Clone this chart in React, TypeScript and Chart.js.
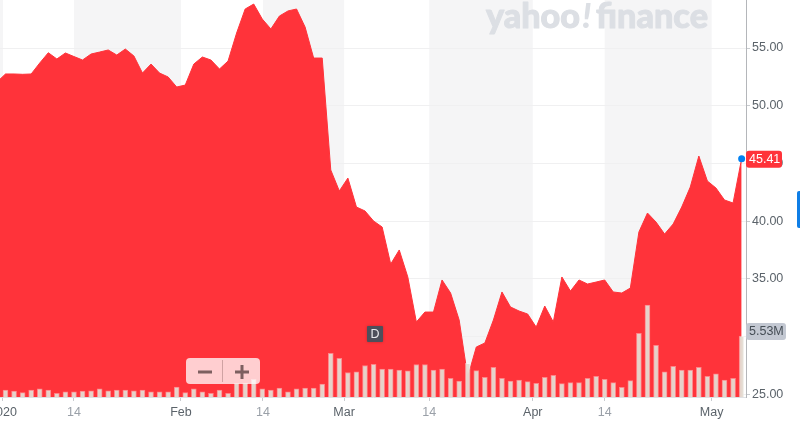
import { useEffect, useRef } from 'react'
import { Chart, registerables } from 'chart.js'

Chart.register(...registerables)

// close prices, first entry is the last session of 2019 (just off the left edge)
const prices = [
  52.05, 52.75, 52.75, 52.72, 52.75, 53.7, 54.59, 54.05, 54.57, 54.26, 53.96, 54.48, 54.65, 54.83, 54.39, 54.91,
  54.31, 52.83, 53.61, 52.83, 52.49, 51.62, 51.79, 53.61, 54.22, 53.96, 53.18, 53.87, 56.3, 58.38, 58.81, 57.51,
  56.65, 57.77, 58.21, 58.38, 56.82, 54.13, 54.13, 44.43, 42.61, 43.73, 41.22, 40.88, 40.01, 39.49, 36.28, 37.5,
  35.16, 31.26, 32.12, 32.12, 34.9, 33.77, 31.43, 26.49, 29.09, 29.44, 31.43, 33.86, 32.56, 32.21, 31.95, 30.82,
  32.64, 31.26, 35.16, 33.94, 34.9, 34.55, 34.72, 34.9, 33.86, 33.77, 34.2, 39.06, 40.7, 39.92, 38.88, 39.75,
  41.22, 42.95, 45.64, 43.47, 42.87, 41.83, 41.57, 45.41,
]

// volume in millions, starts with the first session of 2020
const volumes = [
  0.63, 0.54, 0.39, 0.63, 0.73, 0.63, 0.34, 0.48, 0.48, 0.54, 0.57, 0.73, 0.57, 0.63, 0.63, 0.57, 0.63, 0.48, 0.48,
  0.48, 0.91, 0.39, 0.73, 0.48, 0.34, 0.63, 0.34, 1.24, 1.27, 1.61, 0.73, 0.63, 0.82, 0.48, 0.73, 0.82, 0.82, 1.18,
  3.96, 3.51, 2.22, 2.29, 2.86, 2.97, 2.54, 2.54, 2.45, 2.38, 2.95, 2.95, 2.45, 2.54, 1.7, 1.45, 3.06, 2.39, 1.79,
  2.69, 1.7, 1.45, 1.54, 1.39, 1.24, 1.79, 1.97, 1.21, 1.3, 1.3, 1.7, 1.88, 1.61, 1.3, 0.88, 1.48, 5.78, 8.34, 4.69,
  2.29, 2.78, 2.45, 2.45, 2.69, 1.88, 2.11, 1.54, 1.7, 5.53,
]

const xTickValues = [-0.3, 8, 20.5, 30.08, 39.56, 49.5, 61.6, 70, 82.5]
const xTickLabels = ['2020', '14', 'Feb', '14', 'Mar', '14', 'Apr', '14', 'May']
const yTickValues = [25, 30, 35, 40, 45, 50, 55]

const RED = '#ff333a'
const FONT = '"Liberation Sans", sans-serif'

function roundBox(ctx: CanvasRenderingContext2D, x: number, y: number, w: number, h: number, r: number, fill: string) {
  ctx.fillStyle = fill
  ctx.beginPath()
  ctx.roundRect(x, y, w, h, r)
  ctx.fill()
}

// alternating month shading and the watermark, under the grid
const backdrop = {
  id: 'backdrop',
  beforeDraw(chart: any) {
    const { ctx, chartArea, scales } = chart
    const edges = [chartArea.left, ...xTickValues.map((v) => scales.x.getPixelForValue(v))]
    ctx.save()
    ctx.fillStyle = '#f5f5f6'
    for (let i = 0; i < edges.length - 1; i += 2) {
      ctx.fillRect(edges[i], chartArea.top, edges[i + 1] - edges[i], chartArea.height)
    }
    ctx.fillStyle = '#dcdfe4'
    ctx.strokeStyle = '#dcdfe4'
    ctx.lineWidth = 1
    ctx.lineJoin = 'round'
    ctx.textBaseline = 'alphabetic'
    ctx.font = '900 35px Lato, sans-serif'
    ctx.fillText('yahoo', 486, 28, 94)
    ctx.strokeText('yahoo', 486, 28, 94)
    ctx.fillText('finance', 596, 28, 112)
    ctx.strokeText('finance', 596, 28, 112)
    ctx.font = 'italic 900 35px Lato, sans-serif'
    ctx.fillText('!', 582, 28, 12)
    ctx.restore()
  },
}

// tags, zoom control and event marker on top of the marks
const overlay = {
  id: 'overlay',
  afterDraw(chart: any) {
    const { ctx, scales } = chart
    const lastPrice = prices[prices.length - 1]
    const lastVolume = volumes[volumes.length - 1]
    const lastX = scales.x.getPixelForValue(prices.length - 2)
    const priceY = scales.y.getPixelForValue(lastPrice)
    const volumeY = scales.volume.getPixelForValue(lastVolume)

    ctx.save()
    ctx.textBaseline = 'middle'
    ctx.font = `12.5px ${FONT}`

    // last volume tag
    roundBox(ctx, 746, volumeY - 13, 40, 17, 3, '#c3c8d2')
    ctx.fillStyle = '#464e56'
    ctx.fillText(`${lastVolume.toFixed(2)}M`, 749, volumeY - 4.5)

    // last price tag and dot
    roundBox(ctx, 746, priceY - 8, 36, 17, 3, RED)
    ctx.fillStyle = '#ffffff'
    ctx.fillText(lastPrice.toFixed(2), 749, priceY + 0.5)
    ctx.fillStyle = '#0081f2'
    ctx.beginPath()
    ctx.arc(lastX, priceY, 3.5, 0, Math.PI * 2)
    ctx.fill()

    // event marker
    ctx.shadowColor = 'rgba(0,0,0,0.25)'
    ctx.shadowBlur = 3
    roundBox(ctx, 367, 326, 16, 16, 1, '#4d4f5b')
    ctx.shadowBlur = 0
    ctx.fillStyle = '#e8e8ec'
    ctx.textAlign = 'center'
    ctx.fillText('D', 375, 334.5)
    ctx.textAlign = 'left'

    // zoom control
    roundBox(ctx, 186, 358, 74, 26, 4, 'rgba(255,255,255,0.76)')
    ctx.fillStyle = 'rgba(120,80,80,0.35)'
    ctx.fillRect(222, 360, 1, 22)
    ctx.fillStyle = '#7d5f60'
    ctx.fillRect(198, 370.5, 14, 3)
    ctx.fillRect(235, 370.5, 14, 3)
    ctx.fillRect(240.5, 365, 3, 14)

    // side tab on the window edge
    roundBox(ctx, 797, 191, 6, 37, 2, '#0f7ee6')
    ctx.restore()
  },
}

export default function App() {
  const chartRef = useRef<HTMLCanvasElement>(null)

  useEffect(() => {
    if (!chartRef.current) return

    const chart = new Chart(chartRef.current, {
      data: {
        datasets: [
          {
            type: 'bar',
            data: volumes.map((v, i) => ({ x: i, y: v })),
            yAxisID: 'volume',
            backgroundColor: 'rgba(228,220,210,0.94)',
            borderColor: 'rgba(255,255,255,0.4)',
            borderWidth: 1,
            barThickness: 5,
            order: 1,
          },
          {
            type: 'line',
            data: prices.map((v, i) => ({ x: i - 1, y: v })),
            yAxisID: 'y',
            borderColor: RED,
            borderWidth: 1,
            backgroundColor: RED,
            fill: 'start',
            tension: 0,
            pointRadius: 0,
            order: 2,
          },
        ],
      },
      options: {
        responsive: false,
        animation: false,
        layout: { padding: 0 },
        plugins: {
          legend: { display: false },
          tooltip: { enabled: false },
        },
        scales: {
          x: {
            type: 'linear',
            offset: false,
            min: -0.643,
            max: 86.51,
            afterBuildTicks: (scale: any) => {
              scale.ticks = xTickValues.map((value) => ({ value }))
            },
            afterFit: (scale: any) => {
              scale.height = 45
              scale.paddingLeft = 0
              scale.paddingRight = 0
            },
            grid: { offset: false, drawOnChartArea: false, tickLength: 4, tickColor: '#c9ccd0' },
            border: { color: '#dfe1e4' },
            ticks: {
              autoSkip: false,
              maxRotation: 0,
              padding: 4,
              font: { family: FONT, size: 12.5 },
              color: (c: any) => (xTickLabels[c.index] === '14' ? '#9aa0a8' : '#5b636a'),
              callback: (value: any) => xTickLabels[xTickValues.indexOf(value)],
            },
          },
          y: {
            position: 'right',
            min: 24.76,
            max: 59.16,
            afterBuildTicks: (scale: any) => {
              scale.ticks = yTickValues.map((value) => ({ value }))
            },
            afterFit: (scale: any) => {
              scale.width = 54
              scale.paddingTop = 0
              scale.paddingBottom = 0
            },
            grid: { color: '#f0f0f1', tickLength: 4, tickColor: '#c9ccd0' },
            border: { color: '#b4b6ba' },
            ticks: {
              padding: 2,
              font: { family: FONT, size: 12.5 },
              color: '#5b636a',
              callback: (value: any) => Number(value).toFixed(2),
            },
          },
          volume: {
            display: false,
            min: 0,
            max: 36,
          },
        },
      },
      plugins: [backdrop, overlay],
    } as any)

    return () => {
      chart.destroy()
    }
  }, [])

  return (
    <div style={{ position: 'absolute', left: 0, top: 0, width: 800, height: 442 }}>
      <canvas ref={chartRef} width={800} height={442} style={{ display: 'block' }}></canvas>
    </div>
  )
}
